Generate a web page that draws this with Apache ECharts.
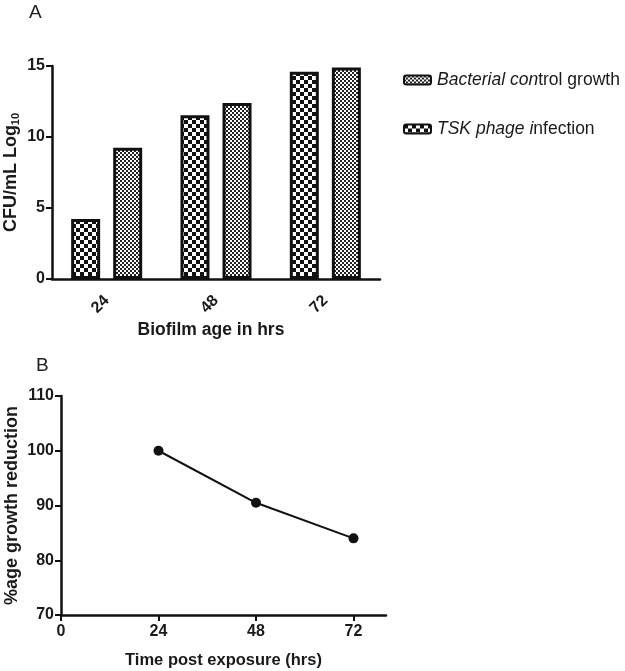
<!DOCTYPE html>
<html><head><meta charset="utf-8">
<script src="https://cdn.jsdelivr.net/npm/echarts@6/dist/echarts.min.js"></script>
<style>html,body{margin:0;padding:0;background:#fff}#c{width:625px;height:671px}</style>
</head><body><div id="c"></div>
<script>
// ---- data ----
const ageCategories = ['24', '48', '72'];
const phageInfection = [4.23, 11.53, 14.6];
const controlGrowth = [9.25, 12.39, 14.9];
const timePoints = [24, 48, 72];
const growthReduction = [100, 90.5, 84.0];
const xTicksB = [0, 24, 48, 72];

function checker(cell, dark) {
  const c = document.createElement('canvas');
  c.width = cell * 2; c.height = cell * 2;
  const g = c.getContext('2d');
  g.fillStyle = '#fff'; g.fillRect(0, 0, c.width, c.height);
  g.fillStyle = dark;
  g.fillRect(0, 0, cell, cell);
  g.fillRect(cell, cell, cell, cell);
  return c;
}
const coarse = { image: checker(4, '#111'), repeat: 'repeat' };
const fine = { image: checker(2, '#222'), repeat: 'repeat' };

const FONT = 'Liberation Sans';
const TXT = '#1a1a1a';
const axisLineStyle = { color: '#111', width: 2.5 };
const tickStyle = { color: '#111', width: 2 };
const chart = echarts.init(document.getElementById('c'), null, { renderer: 'canvas' });
chart.setOption({
  animation: false,
  textStyle: { fontFamily: FONT },
  graphic: [
    { type: 'text', left: 29, top: 3, style: { text: 'A', font: '19px ' + FONT, fill: '#222' } },
    { type: 'text', left: 36, top: 356, style: { text: 'B', font: '19px ' + FONT, fill: '#222' } }
  ],
  legend: {
    data: ['Bacterial control growth', 'TSK phage infection'],
    orient: 'vertical',
    left: 398, top: 66,
    itemWidth: 27, itemHeight: 9, itemGap: 31,
    itemStyle: { borderWidth: 2 },
    textStyle: {
      fontSize: 17.5, color: TXT, fontFamily: FONT, padding: [0, 0, 0, 1],
      rich: { i: { fontStyle: 'italic', fontSize: 17.5, color: TXT, fontFamily: FONT } }
    },
    formatter: function (n) {
      if (n === 'Bacterial control growth') return '{i|Bacterial con}trol growth';
      return '{i|TSK phage i}nfection';
    }
  },
  grid: [
    { left: 52, top: 66, width: 328, height: 213, outerBoundsMode: 'none', containLabel: false },
    { left: 61, top: 396, width: 325, height: 219, outerBoundsMode: 'none', containLabel: false }
  ],
  xAxis: [
    {
      type: 'category', gridIndex: 0, data: ageCategories,
      axisLine: { lineStyle: axisLineStyle },
      axisTick: { alignWithLabel: true, length: 6, lineStyle: tickStyle },
      axisLabel: { rotate: 45, fontSize: 16, fontWeight: 'bold', color: TXT, margin: 19 },
      name: 'Biofilm age in hrs', nameLocation: 'middle', nameGap: 42, nameMoveOverlap: false,
      nameTextStyle: { fontSize: 17.5, fontWeight: 'bold', color: TXT, padding: [0, 10, 0, 0] }
    },
    {
      type: 'value', gridIndex: 1, min: 0, max: 80, interval: 24,
      axisLine: { lineStyle: axisLineStyle },
      axisTick: { show: true, length: 6, customValues: xTicksB, lineStyle: tickStyle },
      axisLabel: { customValues: xTicksB, fontSize: 16, fontWeight: 'bold', color: TXT, margin: 9 },
      splitLine: { show: false },
      name: 'Time post exposure (hrs)', nameLocation: 'middle', nameGap: 37, nameMoveOverlap: false,
      nameTextStyle: { fontSize: 16.5, fontWeight: 'bold', color: TXT }
    }
  ],
  yAxis: [
    {
      type: 'value', gridIndex: 0, min: 0, max: 15, interval: 5,
      axisLine: { show: true, lineStyle: axisLineStyle },
      axisTick: { show: true, length: 6, lineStyle: tickStyle },
      axisLabel: { fontSize: 16, fontWeight: 'bold', color: TXT, margin: 7 },
      splitLine: { show: false },
      name: '{a|CFU/mL Log}{s|10}', nameLocation: 'middle', nameGap: 31, nameMoveOverlap: false,
      nameTextStyle: {
        rich: {
          a: { fontSize: 18, fontWeight: 'bold', color: TXT, fontFamily: FONT },
          s: { fontSize: 11, fontWeight: 'bold', color: TXT, fontFamily: FONT, padding: [9, 0, 0, 0] }
        }
      }
    },
    {
      type: 'value', gridIndex: 1, min: 70, max: 110, interval: 10,
      axisLine: { show: true, lineStyle: axisLineStyle },
      axisTick: { show: true, length: 6, lineStyle: tickStyle },
      axisLabel: { fontSize: 16, fontWeight: 'bold', color: TXT, margin: 7 },
      splitLine: { show: false },
      name: '%age growth reduction', nameLocation: 'middle', nameGap: 40, nameMoveOverlap: false,
      nameTextStyle: { fontSize: 18, fontWeight: 'bold', color: TXT }
    }
  ],
  series: [
    {
      name: 'TSK phage infection', type: 'bar', xAxisIndex: 0, yAxisIndex: 0,
      data: phageInfection, barWidth: 29, barGap: '45%',
      itemStyle: { color: coarse, borderColor: '#111', borderWidth: 3 }
    },
    {
      name: 'Bacterial control growth', type: 'bar', xAxisIndex: 0, yAxisIndex: 0,
      data: controlGrowth, barWidth: 29, barGap: '45%',
      itemStyle: { color: fine, borderColor: '#111', borderWidth: 3 }
    },
    {
      name: 'reduction', type: 'line', xAxisIndex: 1, yAxisIndex: 1,
      data: timePoints.map((t, i) => [t, growthReduction[i]]),
      symbol: 'circle', symbolSize: 10,
      lineStyle: { color: '#111', width: 2 },
      itemStyle: { color: '#111' }
    }
  ]
});
</script></body></html>
